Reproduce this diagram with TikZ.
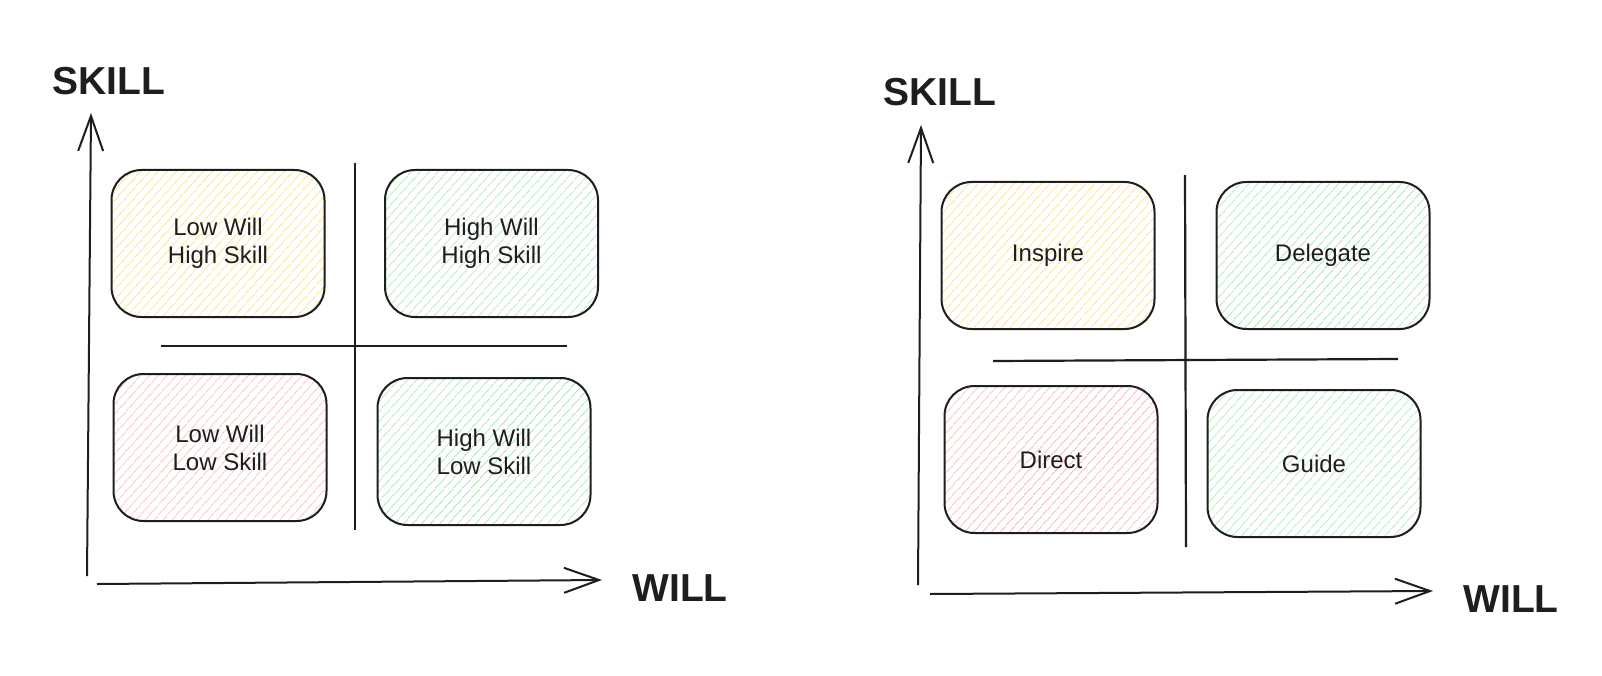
\documentclass[tikz,border=0pt]{standalone}
\usepackage{fontspec}
\setmainfont{Liberation Sans}
\usetikzlibrary{arrows.meta,patterns.meta}
\definecolor{ink}{HTML}{1E1E1E}
\definecolor{hatchyellow}{HTML}{FADF7A}
\definecolor{hatchgreen}{HTML}{A5E8AF}
\definecolor{hatchred}{HTML}{F7B9B9}
\tikzset{
  quadbox/.style={draw=ink, line width=2pt, rounded corners=30pt, minimum width=213pt, minimum height=147pt,
    align=center, text=ink, font=\fontsize{24}{28}\selectfont,
    pattern={Lines[angle=48,distance=6.5pt,line width=0.9pt]}, pattern color=#1},
  axislabel/.style={text=ink, font=\fontsize{39}{39}\selectfont\bfseries},
  axisline/.style={draw=ink, line width=2pt, -{Straight Barb[length=35pt,width=25pt]}},
  divider/.style={draw=ink, line width=2.2pt}
}
\begin{document}
\begin{tikzpicture}[x=1pt, y=-1pt]
    \fill[white] (0,0) rectangle (1602,676);

    \node[quadbox=hatchyellow] at (218,243.5) (lowwillhighskill) {Low Will\\High Skill};
    \node[quadbox=hatchgreen] at (491.5,243.5) (highwillhighskill) {High Will\\High Skill};
    \node[quadbox=hatchred] at (220,447.5) (lowwilllowskill) {Low Will\\Low Skill};
    \node[quadbox=hatchgreen] at (484,451.5) (highwilllowskill) {High Will\\Low Skill};
    \node[axislabel] at (109,81) (skillleft) {SKILL};
    \node[axislabel] at (680,588) (willleft) {WILL};

    \coordinate (originleft) at (87,576);
    \coordinate (skilltipleft) at (91,113);
    \coordinate (willstartleft) at (97,584);
    \coordinate (willtipleft) at (602,580);
    \draw[axisline] (originleft) -- (skilltipleft);
    \draw[axisline] (willstartleft) -- (willtipleft);
    \draw[divider] (355,163) coordinate (vtopleft) -- (355,530) coordinate (vbottomleft);
    \draw[divider] (161,346) coordinate (hleftleft) -- (567,346) coordinate (hrightleft);

    \node[quadbox=hatchyellow] at (1048,255.5) (inspire) {Inspire};
    \node[quadbox=hatchgreen] at (1323,255.5) (delegate) {Delegate};
    \node[quadbox=hatchred] at (1051,459.5) (direct) {Direct};
    \node[quadbox=hatchgreen] at (1314,463.5) (guide) {Guide};
    \node[axislabel] at (940,92) (skillright) {SKILL};
    \node[axislabel] at (1511,599) (willright) {WILL};

    \coordinate (originright) at (918,585);
    \coordinate (skilltipright) at (921,125);
    \coordinate (willstartright) at (930,594);
    \coordinate (willtipright) at (1433,591);
    \draw[axisline] (originright) -- (skilltipright);
    \draw[axisline] (willstartright) -- (willtipright);
    \draw[divider] (1185,175) coordinate (vtopright) -- (1186,547) coordinate (vbottomright);
    \draw[divider] (993,361) coordinate (hleftright) -- (1398,359) coordinate (hrightright);
\end{tikzpicture}
\end{document}
